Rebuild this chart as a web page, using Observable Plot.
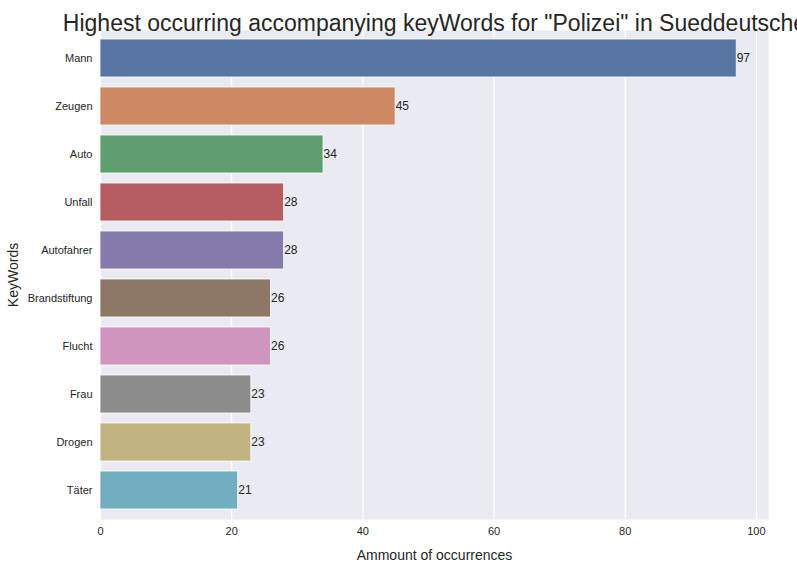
<!DOCTYPE html>
<html>
<head>
<meta charset="utf-8">
<script src="https://cdn.jsdelivr.net/npm/d3@7"></script>
<script src="https://cdn.jsdelivr.net/npm/@observablehq/plot@0.6"></script>
<style>
  body { margin: 0; background: #fff; font-family: "Liberation Sans", Arial, sans-serif; }
</style>
</head>
<body>
<div id="chart"></div>
<script>
const keywords = ["Mann", "Zeugen", "Auto", "Unfall", "Autofahrer", "Brandstiftung", "Flucht", "Frau", "Drogen", "Täter"];
const counts = [97, 45, 34, 28, 28, 26, 26, 23, 23, 21];
const colors = ["#5875a4", "#cc8963", "#5f9e6e", "#b55d60", "#857aab", "#8d7866", "#d095bf", "#8c8c8c", "#c1b37f", "#71aec0"];
const xTicks = [0, 20, 40, 60, 80, 100];

const data = keywords.map((k, i) => ({keyword: k, count: counts[i], color: colors[i]}));

let chart = Plot.plot({
  width: 797,
  height: 563,
  marginLeft: 100,
  marginRight: 29,
  marginTop: 30,
  marginBottom: 44,
  style: {fontFamily: "Liberation Sans, Arial, sans-serif", fontSize: "11px", color: "#262626", background: "#fff"},
  x: {domain: [0, 101.85], ticks: xTicks, tickSize: 0, tickPadding: 8,
      label: "Ammount of occurrences", labelAnchor: "center", labelArrow: "none", labelOffset: 40},
  y: {domain: keywords, paddingInner: 0.2, paddingOuter: 0.1, tickSize: 0, tickPadding: 8,
      label: "KeyWords", labelAnchor: "center", labelArrow: "none", labelOffset: 92},
  marks: [
    Plot.frame({fill: "#eaeaf2", stroke: null}),
    Plot.gridX(xTicks, {stroke: "#fff", strokeOpacity: 1, strokeWidth: 1.2}),
    Plot.barX(data, {x: "count", y: "keyword", fill: "color", stroke: "#fff", strokeWidth: 0.8}),
    Plot.text(data, {x: "count", y: "keyword", text: d => String(d.count), textAnchor: "start", fontSize: 12, fill: "#262626"}),
    Plot.text(["Highest occurring accompanying keyWords for \"Polizei\" in Sueddeutsche"],
      {frameAnchor: "top", dy: -16, fontSize: 23, fill: "#262626"})
  ]
});
d3.select("#chart").append(() => chart);
d3.select(chart).selectAll("[aria-label='x-axis label'] text, [aria-label='y-axis label'] text").style("font-size", "14px");
</script>
</body>
</html>
